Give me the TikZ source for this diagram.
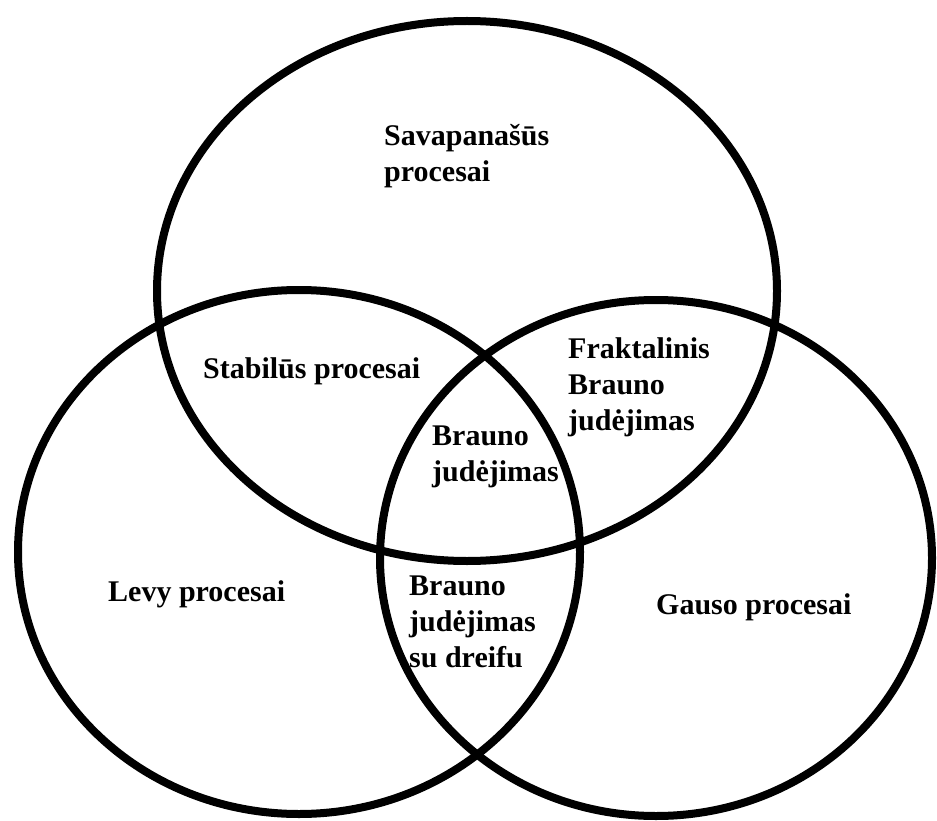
\documentclass[tikz,border=0pt]{standalone}
\usepackage{fontspec}
\setmainfont{Liberation Serif}
\usepackage{tikz}
\usetikzlibrary{positioning}

\begin{document}
\begin{tikzpicture}[x=1pt,y=1pt,
  set/.style={line width=8pt,draw=black},
  lab/.style={anchor=west,align=left,inner sep=0pt,font=\fontsize{30}{36}\selectfont\bfseries}]
  \useasboundingbox (0,0) rectangle (937,-821);
  \draw[set] (467,-291) ellipse [x radius=310,y radius=270];
  \draw[set] (299,-552) ellipse [x radius=281,y radius=262];
  \draw[set] (656,-558) ellipse [x radius=276,y radius=258];

  \node[lab] (savp) at (384,-156) {Savapanašūs\\procesai};
  \node[lab] (stab) at (203,-371) {Stabilūs procesai};
  \node[lab] (frak) at (568,-387) {Fraktalinis\\Brauno\\judėjimas};
  \node[lab] (brau) at (432,-457) {Brauno\\judėjimas};
  \node[lab] (levy) at (108,-594) {Levy procesai};
  \node[lab] (drei) at (409,-622) {Brauno\\judėjimas\\su dreifu};
  \node[lab] (gaus) at (656,-607) {Gauso procesai};
\end{tikzpicture}
\end{document}
